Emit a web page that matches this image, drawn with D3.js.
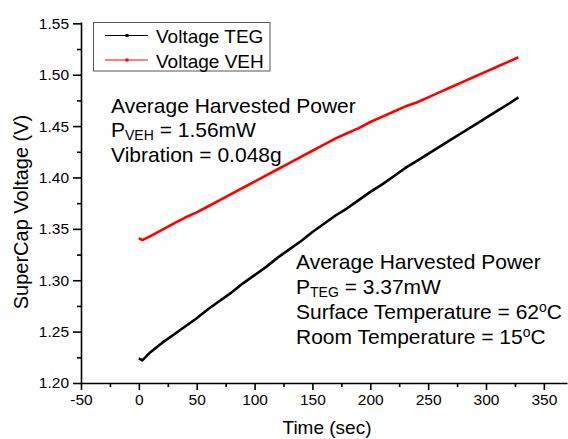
<!DOCTYPE html>
<html><head><meta charset="utf-8">
<script src="https://cdn.jsdelivr.net/npm/d3@7"></script>
<style>
body{margin:0;background:#fff}
svg{display:block}
text{font-family:"Liberation Sans",Arial,Helvetica,sans-serif;fill:#000}
</style>
</head><body>
<svg id="c" width="568" height="439"></svg>
<script>
// ---- data ----
const timeS = [0,3,10,20,30,40,50,60,70,80,90,100,110,120,130,140,150,160,170,180,190,200,210,220,230,240,250,260,270,280,290,300,310,320,328];
const voltTEG = [1.224,1.222,1.230,1.239,1.247,1.255,1.263,1.272,1.280,1.288,1.297,1.305,1.313,1.322,1.330,1.338,1.347,1.355,1.363,1.370,1.378,1.386,1.393,1.401,1.409,1.416,1.423,1.430,1.437,1.444,1.451,1.458,1.465,1.472,1.478];
const voltVEH = [1.341,1.339,1.343,1.349,1.355,1.361,1.366,1.372,1.378,1.384,1.390,1.396,1.402,1.408,1.414,1.420,1.426,1.432,1.438,1.443,1.448,1.454,1.459,1.464,1.469,1.473,1.478,1.483,1.488,1.493,1.498,1.503,1.508,1.513,1.517];
const seriesNames = ["Voltage TEG","Voltage VEH"];
const seriesColors = ["#000000","#ff0000"];
const xTicks = [-50,0,50,100,150,200,250,300,350];
const xMinor = [-25,25,75,125,175,225,275,325];
const yTicks = [1.20,1.25,1.30,1.35,1.40,1.45,1.50,1.55];
const yMinor = [1.225,1.275,1.325,1.375,1.425,1.475,1.525];
const xTitle = "Time (sec)";
const yTitle = "SuperCap Voltage (V)";

const svg = d3.select("#c");
const x = d3.scaleLinear().domain([-50,370]).range([81,567]);
const y = d3.scaleLinear().domain([1.20,1.5513]).range([383,22]);

// axes
svg.append("g").attr("transform","translate(0,383)")
  .call(d3.axisBottom(x).tickValues(xTicks).tickSizeInner(7).tickSizeOuter(0).tickPadding(4).tickFormat(d=>String(d)));
svg.append("g").attr("transform","translate(0,383)")
  .call(d3.axisBottom(x).tickValues(xMinor).tickSize(4).tickFormat(""))
  .call(g=>g.select(".domain").remove());
svg.append("g").attr("transform","translate(81,0)")
  .call(d3.axisLeft(y).tickValues(yTicks).tickSizeInner(8).tickSizeOuter(0).tickPadding(4).tickFormat(d3.format(".2f")));
svg.append("g").attr("transform","translate(81,0)")
  .call(d3.axisLeft(y).tickValues(yMinor).tickSize(4).tickFormat(""))
  .call(g=>g.select(".domain").remove());
svg.selectAll(".domain,.tick line").attr("stroke","#000").attr("stroke-width",1.6);
svg.selectAll(".tick text").attr("font-family","Liberation Sans, Arial, sans-serif").attr("font-size",15.5).attr("fill","#000");

// titles
svg.append("text").attr("x",327).attr("y",434).attr("text-anchor","middle").attr("font-size",19).text(xTitle);
svg.append("text").attr("transform","translate(28,212) rotate(-90)").attr("text-anchor","middle").attr("font-size",20).text(yTitle);

// lines
const line = vals => d3.line().x((d,i)=>x(timeS[i])).y(d=>y(d))(vals);
[voltTEG, voltVEH].forEach((vals,k)=>{
  svg.append("path").attr("d",line(vals)).attr("fill","none")
    .attr("stroke",seriesColors[k]).attr("stroke-width",2.6).attr("stroke-linejoin","round");
});

// legend
const lg = svg.append("g");
lg.append("rect").attr("x",93.5).attr("y",22.5).attr("width",176.5).attr("height",48.5)
  .attr("fill","#fff").attr("stroke","#555").attr("stroke-width",1);
seriesNames.forEach((n,k)=>{
  const ly = 35.5 + k*24.5;
  lg.append("line").attr("x1",105).attr("x2",148).attr("y1",ly).attr("y2",ly)
    .attr("stroke",seriesColors[k]).attr("stroke-width",1);
  lg.append("rect").attr("x",125.5).attr("y",ly-1.5).attr("width",3).attr("height",3).attr("fill",seriesColors[k]);
  lg.append("text").attr("x",156).attr("y",ly+7.5).attr("font-size",19).text(n);
});

// annotations
function annot(x0, y0, parts){
  const t = svg.append("text").attr("x",x0).attr("y",y0).attr("font-size",21);
  parts.forEach(p=>{
    const ts = t.append("tspan").text(p.t);
    if(p.sub){ts.attr("font-size",14).attr("dy",3);}
    else if(p.sup){ts.attr("font-size",14).attr("dy",-7);}
    if(p.back){ts.attr("dy",p.back);}
  });
}
annot(111,113,[{t:"Average Harvested Power"}]);
annot(111,137,[{t:"P"},{t:"VEH",sub:true},{t:" = 1.56mW",back:-3}]);
annot(111,162,[{t:"Vibration = 0.048g"}]);
annot(296,269,[{t:"Average Harvested Power"}]);
annot(296,294,[{t:"P"},{t:"TEG",sub:true},{t:" = 3.37mW",back:-3}]);
annot(296,319,[{t:"Surface Temperature = 62"},{t:"o",sup:true},{t:"C",back:7}]);
annot(296,344,[{t:"Room Temperature = 15"},{t:"o",sup:true},{t:"C",back:7}]);
</script>
</body></html>
